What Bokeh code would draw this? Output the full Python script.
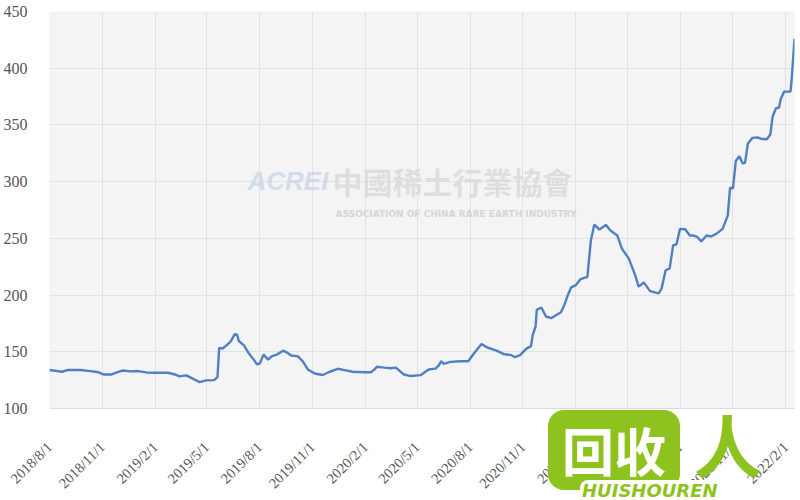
import math
import pandas as pd
from bokeh.plotting import figure
from bokeh.models import FixedTicker, Label, Range1d, Div
from bokeh.layouts import column
from bokeh.embed import file_html
from bokeh.resources import INLINE

# ---- data ----
dates = [
    "2018-08-01", "2018-08-23", "2018-09-01", "2018-09-24", "2018-10-11", "2018-10-23",
    "2018-11-03", "2018-11-17", "2018-11-26", "2018-12-07", "2018-12-19", "2019-01-02",
    "2019-01-16", "2019-02-03", "2019-02-23", "2019-03-07", "2019-03-15", "2019-03-27",
    "2019-04-07", "2019-04-19", "2019-04-30", "2019-05-14", "2019-05-20", "2019-05-23",
    "2019-05-29", "2019-06-06", "2019-06-12", "2019-06-19", "2019-06-23", "2019-06-26",
    "2019-07-05", "2019-07-13", "2019-07-22", "2019-07-28", "2019-08-02", "2019-08-08",
    "2019-08-16", "2019-08-22", "2019-08-31", "2019-09-11", "2019-09-17", "2019-09-25",
    "2019-10-07", "2019-10-15", "2019-10-24", "2019-11-05", "2019-11-19", "2019-12-01",
    "2019-12-15", "2019-12-27", "2020-01-10", "2020-01-30", "2020-02-11", "2020-02-17",
    "2020-02-21", "2020-03-05", "2020-03-16", "2020-03-25", "2020-04-08", "2020-04-20",
    "2020-05-07", "2020-05-21", "2020-06-02", "2020-06-08", "2020-06-12", "2020-06-16",
    "2020-06-28", "2020-07-15", "2020-07-29", "2020-08-07", "2020-08-13", "2020-08-21",
    "2020-08-30", "2020-09-16", "2020-09-28", "2020-10-12", "2020-10-18", "2020-10-27",
    "2020-11-07", "2020-11-15", "2020-11-18", "2020-11-23", "2020-11-25", "2020-12-03",
    "2020-12-11", "2020-12-20", "2020-12-29", "2021-01-06", "2021-01-12", "2021-01-18",
    "2021-01-24", "2021-02-01", "2021-02-09", "2021-02-21", "2021-02-24", "2021-02-27",
    "2021-03-05", "2021-03-14", "2021-03-25", "2021-04-02", "2021-04-14", "2021-04-22",
    "2021-05-04", "2021-05-15", "2021-05-21", "2021-05-30", "2021-06-10", "2021-06-25",
    "2021-06-30", "2021-07-07", "2021-07-14", "2021-07-20", "2021-07-26", "2021-08-01",
    "2021-08-10", "2021-08-18", "2021-08-24", "2021-08-30", "2021-09-07", "2021-09-16",
    "2021-09-24", "2021-10-03", "2021-10-14", "2021-10-23", "2021-10-27", "2021-11-01",
    "2021-11-06", "2021-11-12", "2021-11-18", "2021-11-22", "2021-11-27", "2021-12-05",
    "2021-12-14", "2021-12-20", "2021-12-30", "2022-01-05", "2022-01-09", "2022-01-15",
    "2022-01-20", "2022-01-23", "2022-01-29", "2022-02-09", "2022-02-11", "2022-02-16",
]
prices = [
    133.9, 132.4, 133.9, 133.9, 133.0, 132.2,
    130.0, 130.0, 131.8, 133.5, 132.7, 133.0,
    131.8, 131.5, 131.5, 130.0, 128.3, 129.2,
    126.3, 123.3, 124.8, 125.0, 127.7, 153.4,
    152.9, 156.3, 159.1, 165.6, 165.0, 159.5,
    155.7, 149.0, 143.1, 138.8, 140.0, 147.5,
    143.1, 146.0, 147.5, 151.0, 149.5, 146.7,
    146.0, 141.7, 134.4, 130.9, 129.5, 132.4,
    135.0, 133.8, 132.4, 132.0, 132.0, 134.5,
    136.8, 136.0, 135.5, 136.0, 130.0, 128.6,
    129.4, 134.4, 135.2, 138.2, 141.7, 139.4,
    141.1, 141.7, 141.7, 148.1, 151.9, 156.9,
    154.0, 151.0, 148.1, 147.0, 145.2, 147.0,
    152.8, 155.0, 165.0, 172.3, 186.9, 189.0,
    181.1, 179.6, 182.5, 184.9, 191.3, 200.0,
    206.8, 208.8, 214.0, 216.1, 232.1, 248.1,
    262.1, 257.8, 261.9, 256.9, 252.5, 240.9,
    232.1, 217.6, 207.4, 211.1, 203.5, 201.5,
    205.9, 221.9, 223.5, 243.8, 244.8, 258.4,
    258.0, 252.5, 252.5, 251.6, 247.3, 252.5,
    251.6, 254.0, 258.4, 270.0, 294.8, 294.0,
    318.2, 322.5, 316.1, 316.5, 333.6, 338.6,
    339.0, 337.7, 337.4, 341.5, 357.5, 364.9,
    365.2, 372.7, 379.4, 379.4, 389.6, 426.1,
]
tick_dates = [
    "2018-08-01", "2018-11-01", "2019-02-01", "2019-05-01", "2019-08-01",
    "2019-11-01", "2020-02-01", "2020-05-01", "2020-08-01", "2020-11-01",
    "2021-02-01", "2021-05-01", "2021-08-01", "2021-11-01", "2022-02-01",
]
tick_labels = [
    "2018/8/1", "2018/11/1", "2019/2/1", "2019/5/1", "2019/8/1",
    "2019/11/1", "2020/2/1", "2020/5/1", "2020/8/1", "2020/11/1",
    "2021/2/1", "2021/5/1", "2021/8/1", "2021/11/1", "2022/2/1",
]
y_ticks = [100, 150, 200, 250, 300, 350, 400, 450]
x_start, x_end = "2018-08-01", "2022-02-16"

# ---- figure ----
x = pd.to_datetime(dates)
tick_ms = [int(pd.Timestamp(d).value // 10**6) for d in tick_dates]

p = figure(width=800, height=500, x_axis_type="datetime",
           output_backend="svg", toolbar_location=None,
           x_range=Range1d(pd.Timestamp(x_start), pd.Timestamp(x_end)),
           y_range=Range1d(100, 450),
           min_border_left=42, min_border_right=6,
           min_border_top=11, min_border_bottom=89)

p.background_fill_color = "#f4f4f4"
p.border_fill_color = "white"
p.outline_line_color = None

p.line(x, prices, line_color="#5180c2", line_width=2.4)

xt = FixedTicker(ticks=tick_ms)
yt = FixedTicker(ticks=y_ticks)
p.xaxis.ticker = xt
p.xgrid.ticker = xt
p.yaxis.ticker = yt
p.ygrid.ticker = yt
p.xaxis.major_label_overrides = {ms: lab for ms, lab in zip(tick_ms, tick_labels)}

for g in (p.xgrid, p.ygrid):
    g.grid_line_color = "#e2e2e2"
    g.grid_line_width = 1

p.xaxis.major_label_orientation = math.pi / 4
p.xaxis.axis_line_color = "#dcdcdc"
p.yaxis.axis_line_color = None
for ax in (p.xaxis, p.yaxis):
    ax.major_tick_line_color = None
    ax.minor_tick_line_color = None
    ax.major_label_text_font = "Liberation Serif"
    ax.major_label_text_color = "#555555"
p.xaxis.major_label_text_font_size = "14.5px"
p.yaxis.major_label_text_font_size = "16px"
p.xaxis.major_label_standoff = 30
p.yaxis.major_label_standoff = 16

# ---- watermarks ----
p.add_layout(Label(x=198, y=228, x_units="screen", y_units="screen", text="ACREI",
                   text_font="Liberation Sans", text_font_style="bold italic",
                   text_font_size="26px", text_color="#c5d2e6", text_alpha=0.7,
                   text_baseline="middle"))
p.add_layout(Label(x=283, y=228, x_units="screen", y_units="screen", text="中國稀土行業協會",
                   text_font="Noto Sans CJK TC", text_font_style="bold",
                   text_font_size="30px", text_color="#d9d9d9", text_alpha=0.8,
                   text_baseline="middle"))
p.add_layout(Label(x=286, y=195, x_units="screen", y_units="screen",
                   text="ASSOCIATION OF CHINA RARE EARTH INDUSTRY",
                   text_font="DejaVu Sans", text_font_style="bold",
                   text_font_size="9px", text_color="#d6d6d6",
                   text_baseline="middle"))

logo_html = (
    '<div style="position:relative;width:260px;height:95px;">'
    '<div style="position:absolute;left:0px;top:0px;width:132px;height:80px;'
    'background:#8dc21f;border-radius:16px;color:white;font-family:\'Noto Sans CJK SC\';'
    'font-size:52px;font-weight:bold;line-height:80px;text-align:center;">回收</div>'
    '<div style="position:absolute;left:146px;top:-6px;font-family:\'Noto Sans CJK SC\';'
    'font-size:68px;color:#8dc21f;font-weight:bold;line-height:80px;">人</div>'
    '<div style="position:absolute;left:32px;top:70px;width:150px;height:22px;'
    'background:white;border-radius:8px;"></div>'
    '<div style="position:absolute;left:34px;top:71px;font-family:\'DejaVu Sans\';'
    'font-style:italic;font-weight:bold;font-size:18px;line-height:20px;color:#8dc21f;">HUISHOUREN</div>'
    '</div>'
)
logo = Div(text=logo_html, width=260, height=92,
           styles={"position": "absolute", "left": "543px", "top": "405px", "z-index": "10"})

open("out.html", "w").write(file_html(column(p, logo), INLINE))
